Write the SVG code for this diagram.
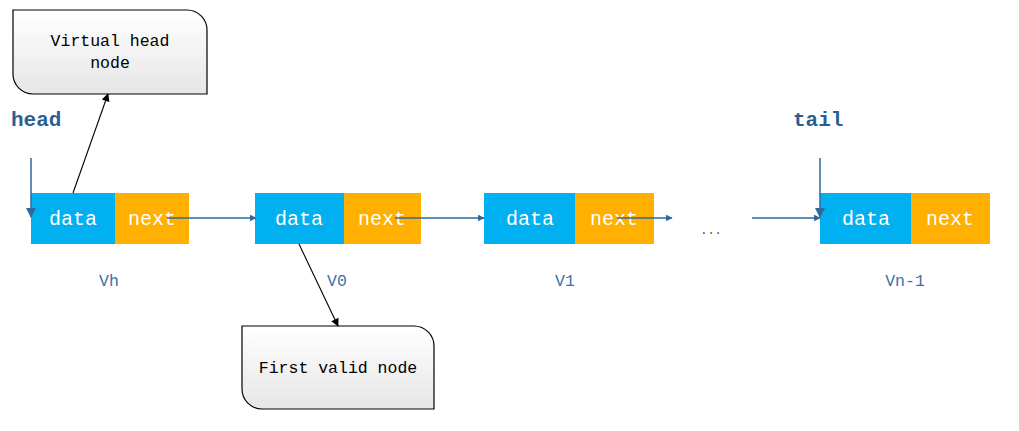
<svg xmlns="http://www.w3.org/2000/svg" width="1019" height="431" viewBox="0 0 1019 431">
<style>
.d{fill:#00B0F0}
.n{fill:#FFB000}
.cell{font-family:"Liberation Mono",monospace;font-size:20px;fill:#fff;text-anchor:middle}
.lbl{font-family:"Liberation Mono",monospace;font-size:16.5px;fill:#3a74a8;text-anchor:middle}
.ptr{font-family:"Liberation Mono",monospace;font-size:21px;font-weight:bold;fill:#2a5f93}
.call{fill:url(#g);stroke:#000;stroke-width:1.2}
.ct{font-family:"Liberation Mono",monospace;font-size:16.5px;fill:#000;text-anchor:middle}
.bl{stroke:#2f6a9c;stroke-width:1.5;fill:none}
.bk{stroke:#000;stroke-width:1.1;fill:none}
</style>
<defs>
<linearGradient id="g" x1="0" y1="0" x2="0" y2="1">
<stop offset="0" stop-color="#ffffff"/>
<stop offset="1" stop-color="#e6e6e6"/>
</linearGradient>
<marker id="ab" viewBox="0 0 10 10" refX="9" refY="5" markerWidth="7" markerHeight="7" markerUnits="userSpaceOnUse" orient="auto">
<path d="M0,0 L10,5 L0,10 z" fill="#2f6a9c"/>
</marker>
<marker id="abig" viewBox="0 0 10 10" refX="9" refY="5" markerWidth="10" markerHeight="10" markerUnits="userSpaceOnUse" orient="auto">
<path d="M0,0 L10,5 L0,10 z" fill="#2f6a9c"/>
</marker>
<marker id="ak" viewBox="0 0 10 10" refX="9" refY="5" markerWidth="9" markerHeight="8" markerUnits="userSpaceOnUse" orient="auto">
<path d="M0,0 L10,5 L0,10 z" fill="#000"/>
</marker>
</defs>
<rect width="1019" height="431" fill="#fff"/>

<g id="callout-virtual">
<path class="call" d="M13,10 H187 A20,20 0 0 1 207,30 V94 H33 A20,20 0 0 1 13,74 Z"/>
<text class="ct" x="110" y="46">Virtual head</text>
<text class="ct" x="110" y="68">node</text>
</g>

<g id="callout-first">
<path class="call" d="M242,326 H414 A20,20 0 0 1 434,346 V409 H262 A20,20 0 0 1 242,389 Z"/>
<text class="ct" x="338" y="373">First valid node</text>
</g>

<g id="ptr-head">
<text class="ptr" x="11" y="126">head</text>
</g>
<g id="ptr-tail">
<text class="ptr" x="793" y="126">tail</text>
</g>

<g id="node-vh">
<rect class="d" x="31" y="193" width="84" height="51"/>
<rect class="n" x="115" y="193" width="74" height="51"/>
<text class="cell" x="73" y="225">data</text>
<text class="cell" x="152" y="225">next</text>
<text class="lbl" x="109" y="286">Vh</text>
</g>

<g id="node-v0">
<rect class="d" x="255" y="193" width="89" height="51"/>
<rect class="n" x="344" y="193" width="77" height="51"/>
<text class="cell" x="299" y="225">data</text>
<text class="cell" x="382" y="225">next</text>
<text class="lbl" x="337" y="286">V0</text>
</g>

<g id="node-v1">
<rect class="d" x="484" y="193" width="91" height="51"/>
<rect class="n" x="575" y="193" width="79" height="51"/>
<text class="cell" x="530" y="225">data</text>
<text class="cell" x="614" y="225">next</text>
<text class="lbl" x="565" y="286">V1</text>
</g>

<g id="ellipsis">
<text x="711" y="234" style="font-family:'Liberation Mono',monospace;font-size:12px;fill:#555;text-anchor:middle">...</text>
</g>

<g id="node-vn1">
<rect class="d" x="820" y="193" width="91" height="51"/>
<rect class="n" x="911" y="193" width="79" height="51"/>
<text class="cell" x="866" y="225">data</text>
<text class="cell" x="950" y="225">next</text>
<text class="lbl" x="905" y="286">Vn-1</text>
</g>

<g id="connectors">
<line class="bl" x1="31" y1="158" x2="31" y2="217" marker-end="url(#abig)"/>
<line class="bl" x1="820" y1="158" x2="820" y2="217" marker-end="url(#abig)"/>
<line class="bl" x1="167" y1="218" x2="256" y2="218" marker-end="url(#ab)"/>
<line class="bl" x1="395" y1="218" x2="484" y2="218" marker-end="url(#ab)"/>
<line class="bl" x1="617" y1="218" x2="672" y2="218" marker-end="url(#ab)"/>
<line class="bl" x1="752" y1="218" x2="820" y2="218" marker-end="url(#ab)"/>
<line class="bk" x1="73" y1="193" x2="108" y2="94" marker-end="url(#ak)"/>
<line class="bk" x1="299" y1="244" x2="338" y2="326" marker-end="url(#ak)"/>
</g>
</svg>
